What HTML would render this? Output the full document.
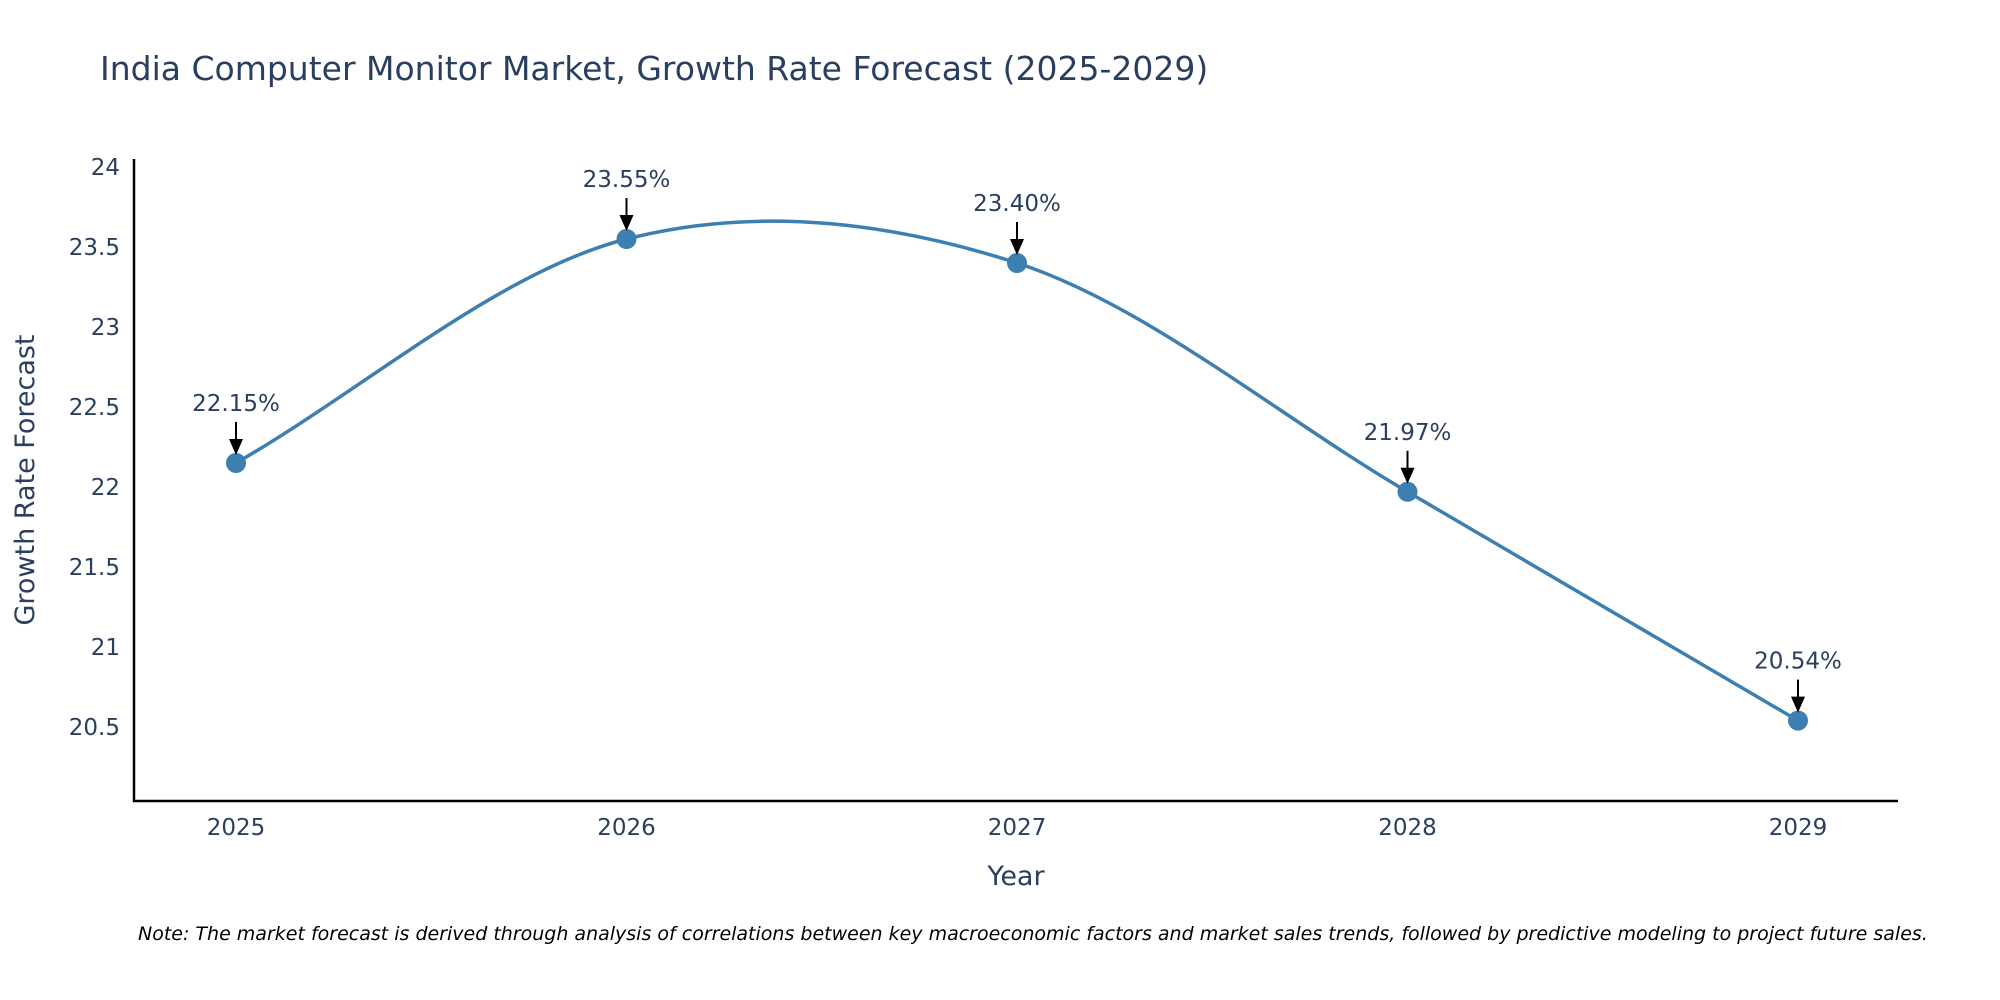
<!DOCTYPE html>
<html><head><meta charset="utf-8"><style>
body{margin:0;background:#fff;}
svg{display:block;font-family:"DejaVu Sans","Liberation Sans",sans-serif;}
</style></head><body>
<svg id="chart" width="2000" height="1000" viewBox="0 0 2000 1000">
<text x="100" y="80" font-size="33" fill="#2a3f5f">India Computer Monitor Market, Growth Rate Forecast (2025-2029)</text>
<g id="yticks"></g>
<g id="xticks"></g>
<line x1="134" y1="159" x2="134" y2="802" stroke="#000" stroke-width="2.5"/>
<line x1="133" y1="801" x2="1898" y2="801" stroke="#000" stroke-width="2.5"/>
<path id="line" fill="none" stroke="#3d7fb0" stroke-width="3.5"/>
<g id="points"></g>
<g id="annos"></g>
<text x="1016" y="885" font-size="27" fill="#2a3f5f" text-anchor="middle">Year</text>
<text transform="translate(34,480) rotate(-90)" font-size="27" fill="#2a3f5f" text-anchor="middle">Growth Rate Forecast</text>
<text x="138" y="940" font-size="19" font-style="italic" fill="#000">Note: The market forecast is derived through analysis of correlations between key macroeconomic factors and market sales trends, followed by predictive modeling to project future sales.</text>
</svg>
<script>
const years=[2025,2026,2027,2028,2029];
const values=[22.15,23.55,23.40,21.97,20.54];
const labels=["22.15%","23.55%","23.40%","21.97%","20.54%"];
const yTicks=[20.5,21,21.5,22,22.5,23,23.5,24];
const NS="http://www.w3.org/2000/svg";
function X(v){return 236+(v-2025)*(1798-236)/4;}
function Y(v){return 727-(v-20.5)*160;}
function mk(t,a,p){const e=document.createElementNS(NS,t);for(const k in a)e.setAttribute(k,a[k]);p.appendChild(e);return e;}
const yg=document.getElementById('yticks');
yTicks.forEach(t=>{const e=mk('text',{x:120,y:Y(t)+8,'font-size':23,fill:'#2a3f5f','text-anchor':'end'},yg);e.textContent=String(t);

});
const xg=document.getElementById('xticks');
years.forEach(t=>{const e=mk('text',{x:X(t),y:835,'font-size':23,fill:'#2a3f5f','text-anchor':'middle'},xg);e.textContent=String(t);

});
const pts=years.map((y,i)=>[X(y),Y(values[i])]);
let d='M'+pts[0][0]+','+pts[0][1];
const s=0.33;
for(let i=0;i<pts.length-1;i++){
 const p0=pts[i-1]||pts[i],p1=pts[i],p2=pts[i+1],p3=pts[i+2]||p2;
 const f1=(i==0?1:2), f2=(i==pts.length-2?1:2);
 const c1=[p1[0]+(p2[0]-p0[0])*s/f1,p1[1]+(p2[1]-p0[1])*s/f1];
 const c2=[p2[0]-(p3[0]-p1[0])*s/f2,p2[1]-(p3[1]-p1[1])*s/f2];
 d+=' C'+c1[0]+','+c1[1]+' '+c2[0]+','+c2[1]+' '+p2[0]+','+p2[1];
}
document.getElementById('line').setAttribute('d',d);
const pg=document.getElementById('points'),ag=document.getElementById('annos');
pts.forEach((p,i)=>{
 const c=mk('circle',{cx:p[0],cy:p[1],r:10,fill:'#3d7fb0'},pg);
 
 
 const l=mk('line',{x1:p[0],y1:p[1]-41,x2:p[0],y2:p[1]-22,stroke:'#000','stroke-width':2},ag);
 
 
 const h=mk('polygon',{points:(p[0]-7)+','+(p[1]-24)+' '+(p[0]+7)+','+(p[1]-24)+' '+p[0]+','+(p[1]-8),fill:'#000'},ag);
 
 
 const t=mk('text',{x:p[0],y:p[1]-52,'font-size':23,fill:'#2a3f5f','text-anchor':'middle'},ag);
 t.textContent=labels[i];
 
 
});
</script>
</body></html>
